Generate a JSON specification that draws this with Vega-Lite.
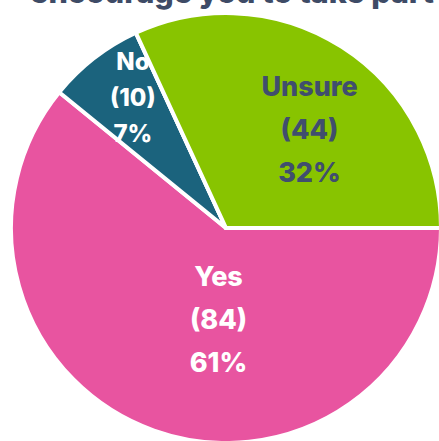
{
  "$schema": "https://vega.github.io/schema/vega-lite/v6.json",
  "width": 426,
  "height": 426,
  "autosize": "none",
  "padding": {"left": 13, "top": 15, "right": 0, "bottom": 0},
  "background": "white",
  "title": {
    "text": "encourage you to take part",
    "font": "Inter",
    "fontSize": 30.5,
    "fontWeight": 800,
    "color": "#3E4B66",
    "anchor": "middle",
    "frame": "group",
    "baseline": "alphabetic",
    "offset": 0,
    "dy": 28,
    "dx": 6,
    "zindex": 1
  },
  "data": {
    "values": [
      {"cat": "Yes", "n": 84},
      {"cat": "No", "n": 10},
      {"cat": "Unsure", "n": 44}
    ]
  },
  "transform": [
    {"joinaggregate": [{"op": "sum", "field": "n", "as": "total"}]},
    {"calculate": "[datum.cat, '(' + datum.n + ')', format(datum.n / datum.total, '.0%')]", "as": "label"}
  ],
  "encoding": {
    "theta": {"field": "n", "type": "quantitative", "stack": true, "scale": {"range": [-0.8878, 5.3954]}},
    "order": {"field": "cat", "sort": "ascending"},
    "detail": {"field": "cat"}
  },
  "layer": [
    {
      "mark": {"type": "arc", "outerRadius": 215, "stroke": "white", "strokeWidth": 4},
      "encoding": {
        "color": {"field": "cat", "type": "nominal", "scale": {"domain": ["Yes", "No", "Unsure"], "range": ["#E854A0", "#1B637D", "#88C400"]}, "legend": null}
      }
    },
    {
      "mark": {"type": "text", "radius": 160, "dx": 5, "dy": -39, "font": "Inter", "fontSize": 24, "fontWeight": 800, "lineHeight": 36, "fill": "white", "align": "center", "baseline": "middle"},
      "encoding": {
        "text": {"condition": {"test": "datum.cat === 'No'", "field": "label"}, "value": ""}
      }
    },
    {
      "mark": {"type": "arc", "outerRadius": 215, "stroke": "white", "strokeWidth": 4},
      "encoding": {
        "color": {"field": "cat", "type": "nominal", "legend": null},
        "opacity": {"condition": {"test": "datum.cat === 'Unsure'", "value": 1}, "value": 0}
      }
    },
    {
      "mark": {"type": "text", "radius": 116, "dx": 21, "dy": -42, "font": "Inter", "fontSize": 27, "fontWeight": 800, "lineHeight": 43, "fill": "#404E6E", "align": "center", "baseline": "middle"},
      "encoding": {
        "text": {"condition": {"test": "datum.cat === 'Unsure'", "field": "label"}, "value": ""}
      }
    },
    {
      "mark": {"type": "text", "radius": 97, "dx": 25, "dy": -41, "font": "Inter", "fontSize": 27, "fontWeight": 800, "lineHeight": 43, "fill": "white", "align": "center", "baseline": "middle"},
      "encoding": {
        "text": {"condition": {"test": "datum.cat === 'Yes'", "field": "label"}, "value": ""}
      }
    }
  ]
}
